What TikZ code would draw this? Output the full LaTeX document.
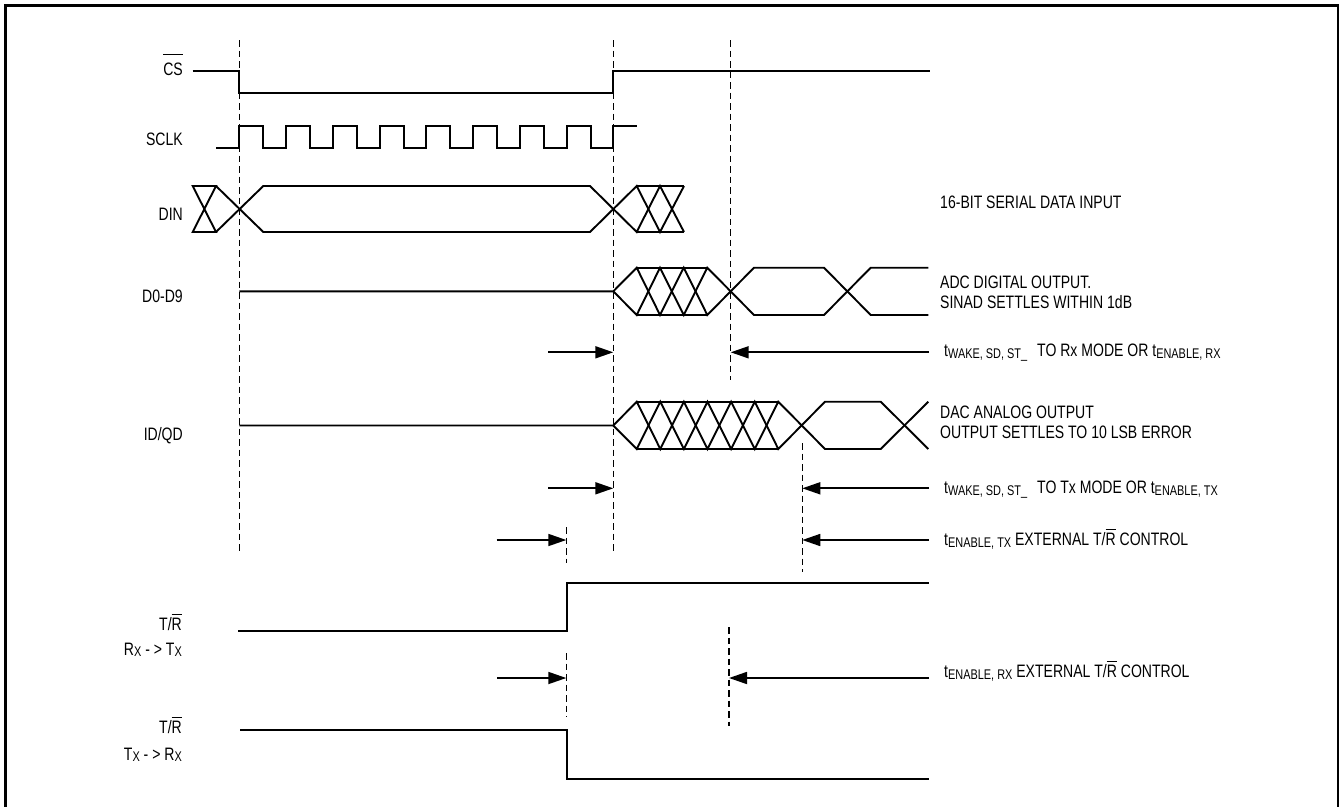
\documentclass[tikz,border=0pt]{standalone}
\usepackage{fontspec}
\setmainfont{Liberation Sans}[FakeStretch=0.78]
\usetikzlibrary{arrows.meta}
\newcommand\sbs[2][-2pt]{\raisebox{#1}{\fontsize{14}{15}\selectfont #2}}
\newcommand\ovl[2][3pt]{\begingroup\setbox0\hbox{#2}\rlap{\raise\dimexpr\ht0+#1\relax\hbox{\vrule width\wd0 height 1.2pt depth 0pt}}\box0\endgroup}
\begin{document}
\begin{tikzpicture}[x=1pt,y=-1pt,
  sig/.style={line width=1.9pt},
  guide/.style={line width=1.5pt, dash pattern=on 6.5pt off 4pt},
  tarr/.style={line width=1.7pt, -{Triangle[length=18pt,width=12pt]}},
  lbl/.style={inner sep=0pt, font=\fontsize{18}{20}\selectfont}]
\useasboundingbox (0,0) rectangle (1340,806);
% frame
\draw[line width=2.4pt] (5.5,812) -- (5.5,5.5) -- (1338,5.5) -- (1338,812);

% left labels
\node[lbl, anchor=base east] (lcs) at (183,75) {\ovl[7pt]{CS}};
\node[lbl, anchor=base east] (lsclk) at (183,145) {SCLK};
\node[lbl, anchor=base east] (ldin) at (183,220) {DIN};
\node[lbl, anchor=base east] (ld) at (183,302) {D0-D9};
\node[lbl, anchor=base east] (liq) at (183,440) {ID/QD};
\node[lbl, anchor=base east] (ltr1) at (182,630) {T/\ovl[2.5pt]{R}};
\node[lbl, anchor=base east] (ltr1b) at (182,655) {R\sbs[-1.5pt]{X} - > T\sbs[-1.5pt]{X}};
\node[lbl, anchor=base east] (ltr2) at (182,733) {T/\ovl[2.5pt]{R}};
\node[lbl, anchor=base east] (ltr2b) at (182,760) {T\sbs[-1.5pt]{X} - > R\sbs[-1.5pt]{X}};

% right labels
\node[lbl, anchor=base west] (r1) at (940,208) {16-BIT SERIAL DATA INPUT};
\node[lbl, anchor=base west] (r2) at (940,288) {ADC DIGITAL OUTPUT.};
\node[lbl, anchor=base west] (r3) at (940,308) {SINAD SETTLES WITHIN 1dB};
\node[lbl, anchor=base west] (r4) at (944,356) {t\sbs{WAKE, SD, ST\_}\hspace{10pt}TO Rx MODE OR t\sbs{ENABLE, RX}};
\node[lbl, anchor=base west] (r5) at (940,418) {DAC ANALOG OUTPUT};
\node[lbl, anchor=base west] (r6) at (940,438) {OUTPUT SETTLES TO 10 LSB ERROR};
\node[lbl, anchor=base west] (r7) at (944,493) {t\sbs{WAKE, SD, ST\_}\hspace{10pt}TO Tx MODE OR t\sbs{ENABLE, TX}};
\node[lbl, anchor=base west] (r8) at (944,545) {t\sbs{ENABLE, TX} EXTERNAL T/\ovl[2.5pt]{R} CONTROL};
\node[lbl, anchor=base west] (r9) at (944,677) {t\sbs{ENABLE, RX} EXTERNAL T/\ovl[2.5pt]{R} CONTROL};

% guide lines
\draw[guide] (239.3,40) -- (239.3,552);
\draw[guide] (613.3,40) -- (613.3,552);
\draw[guide] (730.7,40) -- (730.7,380);
\draw[guide] (802.3,443) -- (802.3,572);
\draw[guide] (566.3,527) -- (566.3,563);
\draw[guide] (729,627) -- (729,726);
\draw[guide] (566.3,653) -- (566.3,717);

% CS
\draw[sig] (192.7,70.7) -- (239.3,70.7) -- (239.3,93.3) -- (613.3,93.3) -- (613.3,70.7) -- (930,70.7);
% SCLK
\draw[sig] (216,148) foreach \k in {0,...,7} { -- (239.3+46.75*\k,148) -- (239.3+46.75*\k,125.7) -- (263.3+46.75*\k,125.7) -- (263.3+46.75*\k,148) } -- (613.3,148) -- (613.3,125.7) -- (637,125.7);
% DIN
\begin{scope}[sig]
\draw (192.7,186) -- (216,186) -- (192.7,232) -- (216,232) -- cycle;
\draw (216,186) -- (263.3,232) -- (590,232) -- (636.7,186) -- (660,232) -- (684,186);
\draw (216,232) -- (263.3,186) -- (590,186) -- (636.7,232) -- (660,186) -- (684,232);
\draw (636.7,186) -- (684,186);
\draw (636.7,232) -- (684,232);
\end{scope}
% D0-D9
\begin{scope}[sig]
\draw (239.3,291.3) -- (613.3,291.3) -- (636.7,267.7) -- (660,315) -- (683.7,267.7) -- (707.3,315) -- (754,267.7) -- (824,267.7) -- (870.7,315) -- (928.3,315);
\draw (613.3,291.3) -- (636.7,315) -- (660,267.7) -- (683.7,315) -- (707.3,267.7) -- (754,315) -- (824,315) -- (870.7,267.7) -- (928.3,267.7);
\draw (636.7,267.7) -- (707.3,267.7);
\draw (636.7,315) -- (707.3,315);
\end{scope}
% ID/QD
\begin{scope}[sig]
\draw (239.3,425.5) -- (613.3,425.5) -- (636.7,401.7) -- (660.3,449) -- (683.9,401.7) -- (707.5,449) -- (731.1,401.7) -- (754.7,449) -- (778.3,401.7) -- (825,449) -- (880.7,449) -- (928.3,401.7);
\draw (613.3,425.5) -- (636.7,449) -- (660.3,401.7) -- (683.9,449) -- (707.5,401.7) -- (731.1,449) -- (754.7,401.7) -- (778.3,449) -- (825,401.7) -- (880.7,401.7) -- (928.3,449);
\draw (636.7,401.7) -- (778.3,401.7);
\draw (636.7,449) -- (778.3,449);
\end{scope}
% T/R
\draw[sig] (238.3,630.7) -- (566.7,630.7) -- (566.7,583.3) -- (929,583.3);
\draw[sig] (240,730) -- (566.7,730) -- (566.7,779) -- (929,779);

% timing arrows
\coordinate (a1l) at (548,352.3); \coordinate (a1m) at (613.3,352.3);
\coordinate (a1r) at (929,352.3); \coordinate (a1n) at (730.7,352.3);
\coordinate (a2l) at (548,488.3); \coordinate (a2m) at (613.3,488.3);
\coordinate (a2r) at (929,488.3); \coordinate (a2n) at (802.3,488.3);
\coordinate (a3l) at (496.7,540); \coordinate (a3m) at (566.3,540);
\coordinate (a3r) at (929,540); \coordinate (a3n) at (802.3,540);
\coordinate (a4l) at (497.3,678); \coordinate (a4m) at (566.3,678);
\coordinate (a4r) at (929,678); \coordinate (a4n) at (729,678);
\draw[tarr] (a1l) -- (a1m); \draw[tarr] (a1r) -- (a1n);
\draw[tarr] (a2l) -- (a2m); \draw[tarr] (a2r) -- (a2n);
\draw[tarr] (a3l) -- (a3m); \draw[tarr] (a3r) -- (a3n);
\draw[tarr] (a4l) -- (a4m); \draw[tarr] (a4r) -- (a4n);
\end{tikzpicture}
\end{document}
